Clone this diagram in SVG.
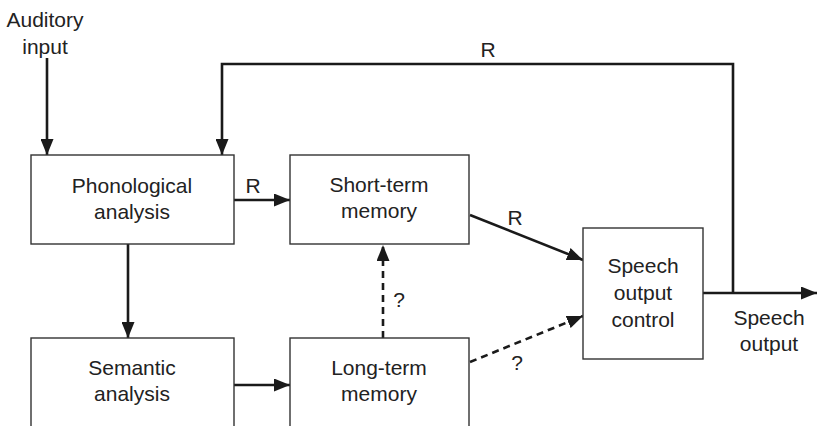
<svg xmlns="http://www.w3.org/2000/svg" width="817" height="426" viewBox="0 0 817 426">
<defs>
<marker id="ah" markerUnits="userSpaceOnUse" markerWidth="16" markerHeight="13" refX="16" refY="6.5" orient="auto">
<path d="M0,0 L16,6.5 L0,13 Z" fill="#1a1a1a"/>
</marker>
<style>
text{font-family:"Liberation Sans",Arial,sans-serif;font-size:21px;fill:#222;text-anchor:middle}
.box{fill:#fff;stroke:#333;stroke-width:1.4}
.ln{fill:none;stroke:#1a1a1a;stroke-width:2.6}
.dash{stroke-dasharray:7,5}
</style>
</defs>
<rect width="817" height="426" fill="#fff"/>
<g id="connectors">
<line class="ln" x1="47" y1="58" x2="47" y2="155" marker-end="url(#ah)"/>
<polyline class="ln" points="733,293 733,64 222,64 222,155" marker-end="url(#ah)"/>
<line class="ln" x1="234" y1="200" x2="290" y2="200" marker-end="url(#ah)"/>
<line class="ln" x1="128" y1="244" x2="128" y2="338" marker-end="url(#ah)"/>
<line class="ln" x1="234" y1="385" x2="290" y2="385" marker-end="url(#ah)"/>
<line class="ln" x1="470" y1="215" x2="583" y2="260" marker-end="url(#ah)"/>
<line class="ln dash" x1="383" y1="338" x2="383" y2="245" marker-end="url(#ah)"/>
<line class="ln dash" x1="470" y1="362" x2="583" y2="316" marker-end="url(#ah)"/>
<line class="ln" x1="703" y1="293" x2="817" y2="293" marker-end="url(#ah)"/>
<text x="488" y="57">R</text>
<text x="253" y="193">R</text>
<text x="515" y="225">R</text>
<text x="399" y="307">?</text>
<text x="517" y="370">?</text>
</g>
<g id="auditory-input">
<text x="45" y="27">Auditory</text>
<text x="45" y="54">input</text>
</g>
<g id="phonological">
<rect class="box" x="31" y="155" width="203" height="89"/>
<text x="132" y="193">Phonological</text>
<text x="132" y="219">analysis</text>
</g>
<g id="short-term">
<rect class="box" x="290" y="155" width="179" height="89"/>
<text x="379" y="192">Short-term</text>
<text x="379" y="218">memory</text>
</g>
<g id="semantic">
<rect class="box" x="31" y="338" width="203" height="100"/>
<text x="132" y="375">Semantic</text>
<text x="132" y="401">analysis</text>
</g>
<g id="long-term">
<rect class="box" x="290" y="338" width="179" height="100"/>
<text x="379" y="375">Long-term</text>
<text x="379" y="401">memory</text>
</g>
<g id="speech-control">
<rect class="box" x="583" y="228" width="120" height="131"/>
<text x="643" y="273">Speech</text>
<text x="643" y="300">output</text>
<text x="643" y="327">control</text>
</g>
<g id="speech-output">
<text x="769" y="325">Speech</text>
<text x="769" y="351">output</text>
</g>
</svg>
